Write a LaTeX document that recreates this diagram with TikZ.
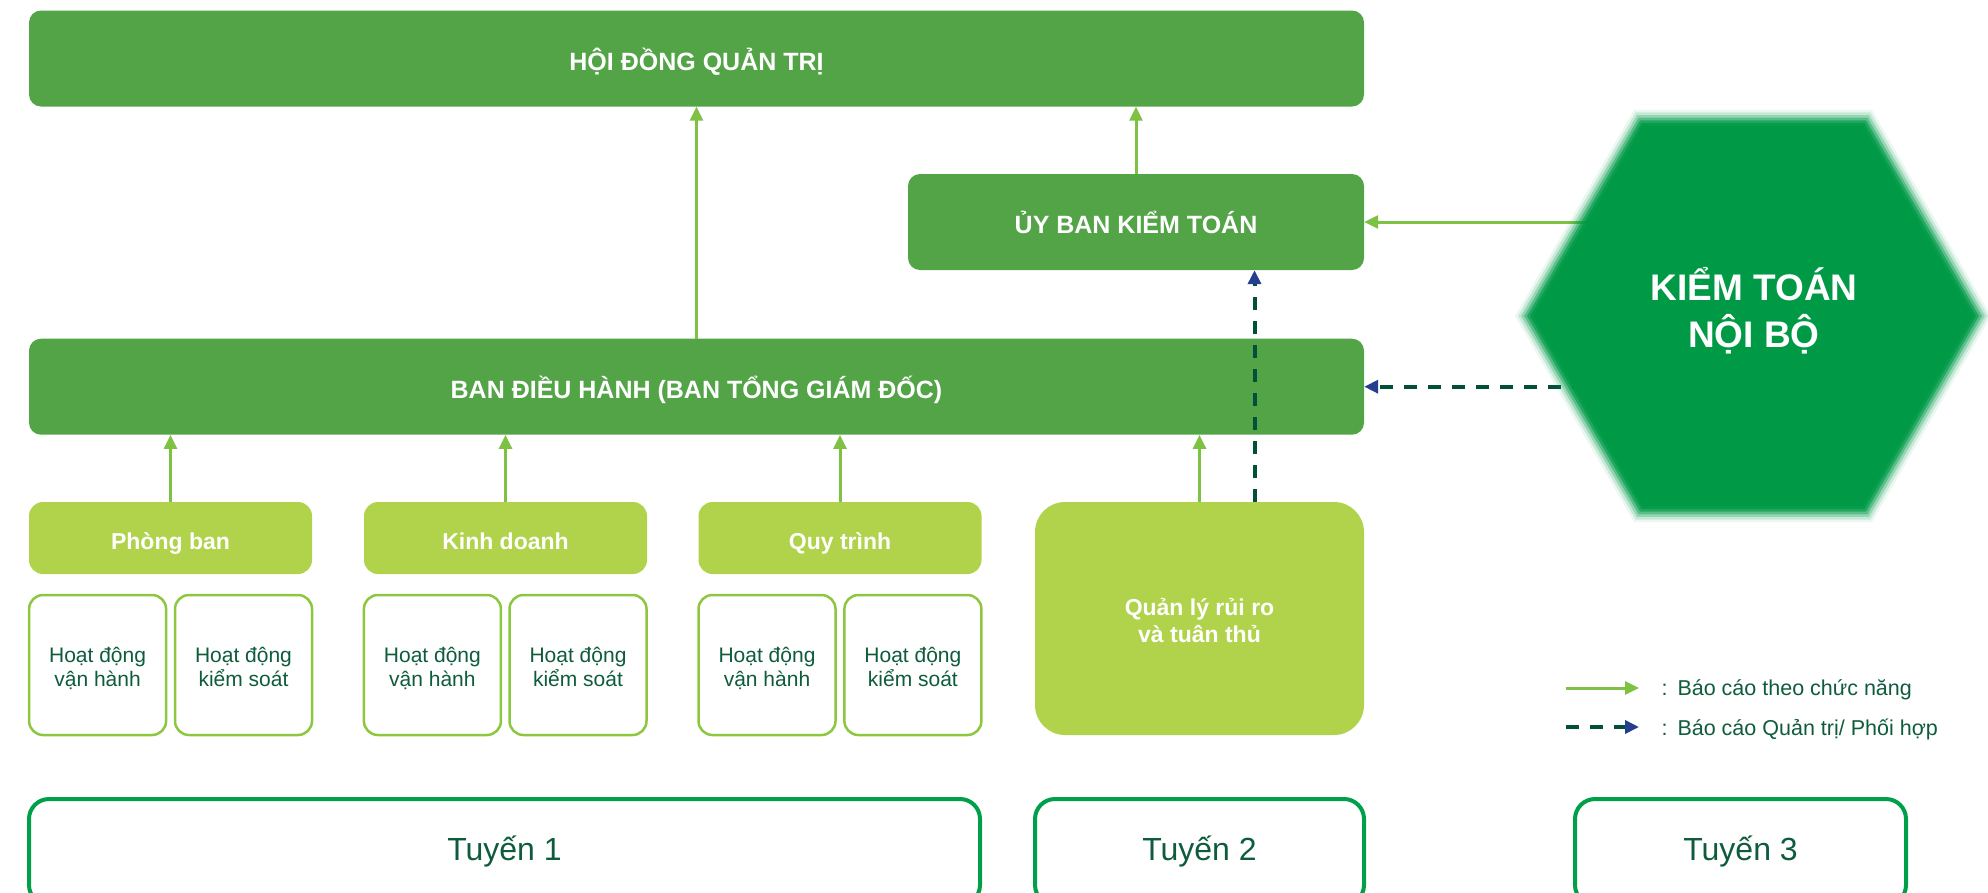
\documentclass[tikz,border=0pt]{standalone}
\usepackage{fontspec}
\setmainfont{Liberation Sans}
\usetikzlibrary{arrows.meta}

\definecolor{boxdark}{HTML}{52A447}
\definecolor{boxlight}{HTML}{B1D34B}
\definecolor{hexgreen}{HTML}{009A47}
\definecolor{arrowgreen}{HTML}{7DC242}
\definecolor{subline}{HTML}{8DC63F}
\definecolor{tuyenline}{HTML}{00A04B}
\definecolor{textdark}{HTML}{0E5C3C}
\definecolor{dashgreen}{HTML}{00503A}
\definecolor{tipnavy}{HTML}{243E90}

\tikzset{
  darkbox/.style={rounded corners=12pt, fill=boxdark, text=white, inner sep=0pt,
    minimum height=96pt, text height=25pt, text depth=2pt, font=\fontsize{25}{30}\selectfont\bfseries},
  lightbox/.style={rounded corners=14pt, fill=boxlight, text=white, inner sep=0pt,
    minimum width=283pt, minimum height=72pt, text height=24pt, text depth=2pt, font=\fontsize{23}{27}\selectfont\bfseries},
  riskbox/.style={rounded corners=30pt, fill=boxlight, text=white, inner sep=0pt,
    minimum width=329pt, minimum height=233pt, align=center, text height=50pt, text depth=3pt,
    font=\fontsize{23}{27}\selectfont\bfseries},
  subbox/.style={rounded corners=14pt, draw=subline, line width=2.5pt, fill=white, inner sep=0pt,
    minimum width=137pt, minimum height=140pt, align=center, text height=46pt, text depth=2.6pt,
    text=textdark, font=\fontsize{21}{24}\selectfont},
  tuyenbox/.style={rounded corners=20pt, draw=tuyenline, line width=4pt, inner sep=0pt,
    minimum height=106pt, text=textdark, font=\fontsize{32}{38}\selectfont},
  fnarrow/.style={draw=arrowgreen, line width=3pt, -{Triangle[length=14pt, width=13pt]}},
  mgarrow/.style={draw=dashgreen, line width=4pt, dash pattern=on 13pt off 11pt,
    -{Triangle[length=14pt, width=13pt, color=tipnavy]}},
  legendtext/.style={anchor=west, text=textdark, font=\fontsize{21.5}{25}\selectfont}
}

\begin{document}
\begin{tikzpicture}[x=1pt, y=-1pt]
    \useasboundingbox (0,0) rectangle (1988,892);

    % Board, committee and management
    \node [darkbox, minimum width=1335pt] (hdqt) at (696.5,58.5) {HỘI ĐỒNG QUẢN TRỊ};
    \node [darkbox, minimum width=456pt] (uyban) at (1136,222) {ỦY BAN KIỂM TOÁN};
    \node [darkbox, minimum width=1335pt] (bdh) at (696.5,386.7) {BAN ĐIỀU HÀNH (BAN TỔNG GIÁM ĐỐC)};

    % First and second line units
    \node [lightbox] (phongban) at (170.5,538) {Phòng ban};
    \node [lightbox] (kinhdoanh) at (505.5,538) {Kinh doanh};
    \node [lightbox] (quytrinh) at (840,538) {Quy trình};
    \node [riskbox] (qlrr) at (1199.5,618.5) {Quản lý rủi ro\\và tuân thủ};

    \node [subbox] (pbvh) at (97.6,665) {Hoạt động\\vận hành};
    \node [subbox] (pbks) at (243.5,665) {Hoạt động\\kiểm soát};
    \node [subbox] (kdvh) at (432.4,665) {Hoạt động\\vận hành};
    \node [subbox] (kdks) at (578,665) {Hoạt động\\kiểm soát};
    \node [subbox] (qtvh) at (767,665) {Hoạt động\\vận hành};
    \node [subbox] (qtks) at (912.9,665) {Hoạt động\\kiểm soát};

    % Lines of defence
    \node [tuyenbox, minimum width=951pt] (tuyen1) at (504.5,852) {Tuyến 1};
    \node [tuyenbox, minimum width=329pt] (tuyen2) at (1199.5,852) {Tuyến 2};
    \node [tuyenbox, minimum width=331pt] (tuyen3) at (1740.5,852) {Tuyến 3};

    % Functional reporting
    \draw [fnarrow] (bdh.north) -- (hdqt.south);
    \draw [fnarrow] (uyban.north) -- (hdqt.south -| uyban.north);
    \draw [fnarrow] (phongban.north) -- (bdh.south -| phongban.north);
    \draw [fnarrow] (kinhdoanh.north) -- (bdh.south -| kinhdoanh.north);
    \draw [fnarrow] (quytrinh.north) -- (bdh.south -| quytrinh.north);
    \draw [fnarrow] (qlrr.north) -- (bdh.south -| qlrr.north);

    \coordinate (hexc) at (1753,316);
    \draw [fnarrow] (hexc |- uyban.east) -- (uyban.east);

    % Administrative reporting
    \draw [mgarrow] ([xshift=55pt]qlrr.north) -- ([xshift=55pt]qlrr.north |- uyban.south);
    \draw [mgarrow] (hexc |- bdh.east) -- (bdh.east);

    % Internal audit hexagon, soft edge
    \foreach \r/\o in {238/0.08, 235/0.15, 232/0.25, 229/0.4, 226/0.6, 223/0.8, 220/1}
        \fill [hexgreen, opacity=\o] (hexc) +(0:\r) -- +(60:\r) -- +(120:\r) -- +(180:\r) -- +(240:\r) -- +(300:\r) -- cycle;
    \node [text=white, align=center, font=\fontsize{37}{47}\selectfont\bfseries] (kttnb) at (1754,311) {KIỂM TOÁN\\NỘI BỘ};

    % Legend
    \coordinate (lg1a) at (1566,688);
    \coordinate (lg1b) at (1639,688);
    \coordinate (lg2a) at (1566,727);
    \coordinate (lg2b) at (1639,727);
    \draw [fnarrow] (lg1a) -- (lg1b);
    \draw [mgarrow] (lg2a) -- (lg2b);
    \node [legendtext] (lgt1) at (1658,690) {:\hspace{10pt}Báo cáo theo chức năng};
    \node [legendtext] (lgt2) at (1658,729) {:\hspace{10pt}Báo cáo Quản trị/ Phối hợp};
\end{tikzpicture}
\end{document}
